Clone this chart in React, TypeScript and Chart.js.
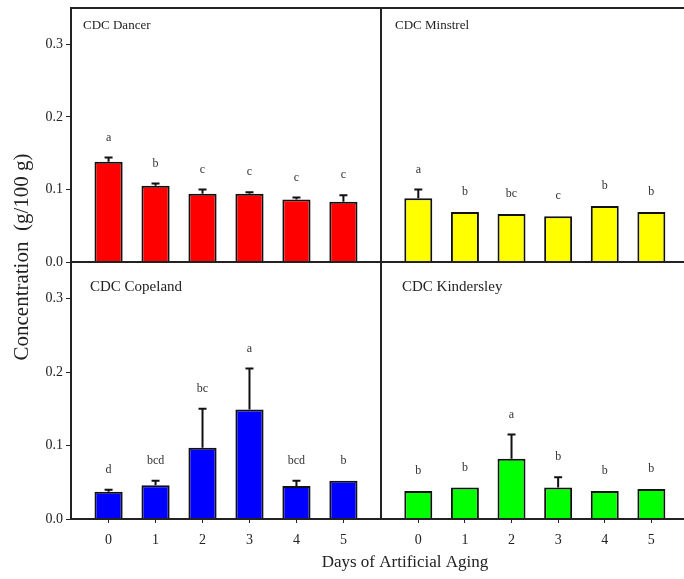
import React, { useEffect, useRef } from "react";
import { Chart, registerables } from "chart.js";

Chart.register(...registerables);

// ---------- data ----------
const days = [0, 1, 2, 3, 4, 5];
const dayLabels = ["0", "1", "2", "3", "4", "5"];
const yTickValues = [0, 0.1, 0.2, 0.3];

const dancerMean = [0.138, 0.105, 0.094, 0.094, 0.086, 0.083];
const dancerErr = [0.006, 0.003, 0.006, 0.002, 0.003, 0.009];
const dancerLetters = ["a", "b", "c", "c", "c", "c"];

const minstrelMean = [0.088, 0.069, 0.066, 0.063, 0.077, 0.069];
const minstrelErr = [0.012, 0, 0, 0, 0, 0];
const minstrelLetters = ["a", "b", "bc", "c", "b", "b"];

const copelandMean = [0.037, 0.046, 0.097, 0.149, 0.045, 0.052];
const copelandErr = [0.003, 0.006, 0.053, 0.056, 0.007, 0];
const copelandLetters = ["d", "bcd", "bc", "a", "bcd", "b"];

const kindersleyMean = [0.038, 0.043, 0.082, 0.043, 0.038, 0.041];
const kindersleyErr = [0, 0, 0.033, 0.014, 0, 0];
const kindersleyLetters = ["b", "b", "a", "b", "b", "b"];

const xTitle = "Days of Artificial Aging";
const yTitle = "Concentration  (g/100 g)";

// ---------- layout / style ----------
const W = 684;
const H = 579;
const SERIF = "'Liberation Serif', 'Times New Roman', serif";
const INK = "#222";

type Panel = {
  name: string;
  mean: number[];
  err: number[];
  letters: string[];
  color: string;
  area: { left: number; top: number; right: number; bottom: number };
  xMax: number;
  showY: boolean;
  showX: boolean;
  titleSize: number;
  titleDx: number;
  titleDy: number;
  sides: { top: boolean; left: boolean; right: boolean; bottom: boolean };
  axisTitles: boolean;
};

const panels: Panel[] = [
  {
    name: "CDC Dancer", mean: dancerMean, err: dancerErr, letters: dancerLetters, color: "#ff0000",
    area: { left: 71, top: 8, right: 381, bottom: 262 }, xMax: 5.8, showY: true, showX: false,
    titleSize: 13, titleDx: 12, titleDy: 21,
    sides: { top: true, left: true, right: true, bottom: true }, axisTitles: false,
  },
  {
    name: "CDC Minstrel", mean: minstrelMean, err: minstrelErr, letters: minstrelLetters, color: "#ffff00",
    area: { left: 381, top: 8, right: 684, bottom: 262 }, xMax: 5.7, showY: false, showX: false,
    titleSize: 13, titleDx: 14, titleDy: 21,
    sides: { top: true, left: true, right: false, bottom: true }, axisTitles: false,
  },
  {
    name: "CDC Copeland", mean: copelandMean, err: copelandErr, letters: copelandLetters, color: "#0000ff",
    area: { left: 71, top: 262, right: 381, bottom: 519 }, xMax: 5.8, showY: true, showX: true,
    titleSize: 15, titleDx: 19, titleDy: 29,
    sides: { top: false, left: true, right: true, bottom: true }, axisTitles: true,
  },
  {
    name: "CDC Kindersley", mean: kindersleyMean, err: kindersleyErr, letters: kindersleyLetters, color: "#00ff00",
    area: { left: 381, top: 262, right: 684, bottom: 519 }, xMax: 5.7, showY: false, showX: true,
    titleSize: 15, titleDx: 21, titleDy: 29,
    sides: { top: false, left: true, right: false, bottom: true }, axisTitles: false,
  },
];

const decorPlugin = {
  id: "panelDecor",
  afterDatasetsDraw(chart: any, _args: any, opts: any) {
    const p: Panel = opts.panel;
    const ctx = chart.ctx;
    const xs = chart.scales.x;
    const ys = chart.scales.y;
    const ca = chart.chartArea;
    ctx.save();
    // error bars and letters
    ctx.strokeStyle = "#111";
    ctx.lineWidth = 2;
    ctx.fillStyle = "#333";
    ctx.font = `12px ${SERIF}`;
    ctx.textAlign = "center";
    ctx.textBaseline = "middle";
    days.forEach((d, i) => {
      const x = xs.getPixelForValue(d);
      const yBar = ys.getPixelForValue(p.mean[i]);
      const yErr = ys.getPixelForValue(p.mean[i] + p.err[i]);
      if (p.err[i] > 0) {
        ctx.beginPath();
        ctx.moveTo(x, yBar);
        ctx.lineTo(x, yErr);
        ctx.moveTo(x - 4, yErr);
        ctx.lineTo(x + 4, yErr);
        ctx.stroke();
      }
      ctx.fillText(p.letters[i], x, yErr - 20);
    });
    // frame
    ctx.strokeStyle = INK;
    ctx.lineWidth = 2;
    ctx.beginPath();
    if (p.sides.top) { ctx.moveTo(ca.left, ca.top); ctx.lineTo(ca.right, ca.top); }
    if (p.sides.left) { ctx.moveTo(ca.left, ca.top - 1); ctx.lineTo(ca.left, ca.bottom + 1); }
    if (p.sides.right) { ctx.moveTo(ca.right, ca.top - 1); ctx.lineTo(ca.right, ca.bottom + 1); }
    if (p.sides.bottom) { ctx.moveTo(ca.left - 1, ca.bottom); ctx.lineTo(ca.right, ca.bottom); }
    ctx.stroke();
    // panel title
    ctx.fillStyle = INK;
    ctx.font = `${p.titleSize}px ${SERIF}`;
    ctx.textAlign = "left";
    ctx.textBaseline = "alphabetic";
    ctx.fillText(p.name, ca.left + p.titleDx, ca.top + p.titleDy);
    // shared axis titles
    if (p.axisTitles) {
      ctx.font = `17px ${SERIF}`;
      ctx.textAlign = "center";
      ctx.textBaseline = "middle";
      ctx.fillText(xTitle, 405, 563);
      ctx.save();
      ctx.translate(22, 257);
      ctx.rotate(-Math.PI / 2);
      ctx.font = `21px ${SERIF}`;
      ctx.fillText(yTitle, 0, 0);
      ctx.restore();
    }
    ctx.restore();
  },
};

function makeChart(canvas: HTMLCanvasElement, p: Panel) {
  return new Chart(canvas, {
    type: "bar",
    data: {
      datasets: [
        {
          data: days.map((d, i) => ({ x: d, y: p.mean[i] })),
          backgroundColor: p.color,
          borderColor: "#111",
          borderWidth: 2,
          barPercentage: 0.6,
          categoryPercentage: 1,
        },
      ],
    },
    options: {
      responsive: false,
      animation: false,
      devicePixelRatio: 1,
      events: [],
      layout: {
        padding: {
          left: p.showY ? 0 : p.area.left,
          top: p.area.top,
          right: W - p.area.right,
          bottom: p.showX ? 0 : H - p.area.bottom,
        },
      },
      plugins: {
        legend: { display: false },
        tooltip: { enabled: false },
        title: { display: false },
        panelDecor: { panel: p },
      } as any,
      scales: {
        x: {
          type: "linear",
          min: -0.8,
          max: p.xMax,
          offset: false,
          display: p.showX,
          afterBuildTicks: (s: any) => {
            s.ticks = days.map((v) => ({ value: v }));
          },
          afterFit: (s: any) => {
            if (p.showX) s.height = H - p.area.bottom;
            s.paddingLeft = 0;
            s.paddingRight = 0;
          },
          grid: { offset: false, drawOnChartArea: false, drawTicks: true, tickLength: 4, color: INK, lineWidth: 1 },
          border: { display: false },
          ticks: {
            autoSkip: false,
            maxRotation: 0,
            padding: 9,
            color: INK,
            font: { family: SERIF, size: 14 },
            callback: (v: any) => dayLabels[days.indexOf(Number(v))],
          },
        },
        y: {
          type: "linear",
          min: 0,
          max: 0.35,
          display: p.showY,
          afterBuildTicks: (s: any) => {
            s.ticks = yTickValues.map((v) => ({ value: v }));
          },
          afterFit: (s: any) => {
            if (p.showY) s.width = p.area.left;
            s.paddingTop = 0;
            s.paddingBottom = 0;
          },
          grid: { drawOnChartArea: false, drawTicks: true, tickLength: 5, color: INK, lineWidth: 1 },
          border: { display: false },
          ticks: {
            padding: 3,
            color: INK,
            font: { family: SERIF, size: 14 },
            callback: (v: any) => Number(v).toFixed(1),
          },
        },
      },
    } as any,
    plugins: [decorPlugin],
  });
}

export default function App() {
  const refs = [useRef<HTMLCanvasElement>(null), useRef<HTMLCanvasElement>(null), useRef<HTMLCanvasElement>(null), useRef<HTMLCanvasElement>(null)];
  useEffect(() => {
    const charts = panels.map((p, i) => makeChart(refs[i].current as HTMLCanvasElement, p));
    return () => charts.forEach((c) => c.destroy());
  }, []);
  return (
    <div style={{ position: "absolute", left: 0, top: 0, width: W, height: H, background: "#fff", overflow: "hidden" }}>
      {panels.map((p, i) => (
        <canvas
          key={p.name}
          ref={refs[i]}
          width={W}
          height={H}
          style={{ position: "absolute", left: 0, top: 0, width: W, height: H }}
        />
      ))}
    </div>
  );
}
